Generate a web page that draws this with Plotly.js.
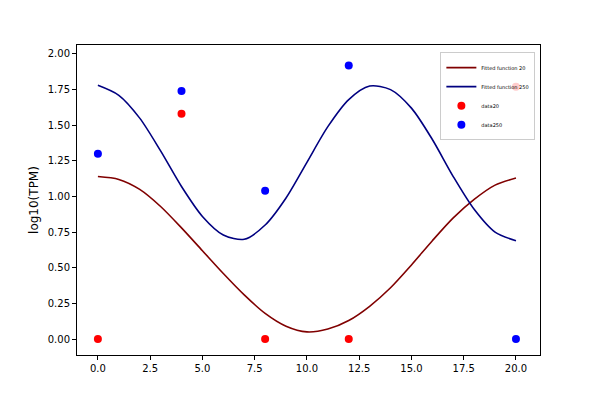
<!DOCTYPE html>
<html>
<head>
<script src="https://cdn.plot.ly/plotly-3.0.1.min.js"></script>
<style>body{margin:0}</style>
</head>
<body>
<div id="chart" style="width:600px;height:400px"></div>
<script>
// curve values
var fitX = [0,1,2,3,4,5,6,7,8,9,10,11,12,13,14,15,16,17,18,19,20];
var fit20 = [1.14,1.12,1.05,0.93,0.78,0.62,0.46,0.31,0.18,0.09,0.05,0.07,0.13,0.23,0.36,0.52,0.69,0.85,0.98,1.08,1.13];
var fit250 = [1.78,1.71,1.55,1.32,1.07,0.86,0.73,0.70,0.80,0.99,1.24,1.49,1.68,1.775,1.75,1.62,1.40,1.14,0.91,0.75,0.69];
var dataX = [0,4,8,12,20];
var data20 = [0,1.58,0,0,1.77];
var data250 = [1.30,1.74,1.04,1.92,0];

var traces = [
  {x: fitX, y: fit20, mode: 'lines', name: 'Fitted function 20', line: {color: '#800000', width: 1.6, shape: 'spline', smoothing: 0.8}},
  {x: fitX, y: fit250, mode: 'lines', name: 'Fitted function 250', line: {color: '#000080', width: 1.6, shape: 'spline', smoothing: 0.8}},
  {x: dataX, y: data20, mode: 'markers', name: 'data20', marker: {color: 'red', size: 8}},
  {x: dataX, y: data250, mode: 'markers', name: 'data250', marker: {color: 'blue', size: 8}}
];

var ax = {showgrid: false, zeroline: false, showline: true, mirror: true, linecolor: 'black',
  ticks: 'outside', ticklen: 4, tickcolor: 'black'};

var layout = {
  width: 600, height: 400,
  margin: {l: 77, r: 60, t: 45, b: 45},
  font: {family: 'DejaVu Sans', size: 10, color: 'black'},
  showlegend: true,
  legend: {x: 0.99, y: 0.977, xanchor: 'right', yanchor: 'top', bgcolor: 'rgba(255,255,255,0.8)',
    bordercolor: '#cccccc', borderwidth: 1, font: {size: 5}, itemwidth: 30, tracegroupgap: 0},
  xaxis: Object.assign({range: [-1.0, 21.15], tick0: 0, dtick: 2.5, tickformat: '.1f'}, ax),
  yaxis: Object.assign({range: [-0.112, 2.063], tick0: 0, dtick: 0.25, tickformat: '.2f',
    title: {text: 'log10(TPM)', font: {size: 12}, standoff: 6}}, ax),
  plot_bgcolor: 'white', paper_bgcolor: 'white'
};

Plotly.newPlot('chart', traces, layout, {displayModeBar: false});
</script>
</body>
</html>
